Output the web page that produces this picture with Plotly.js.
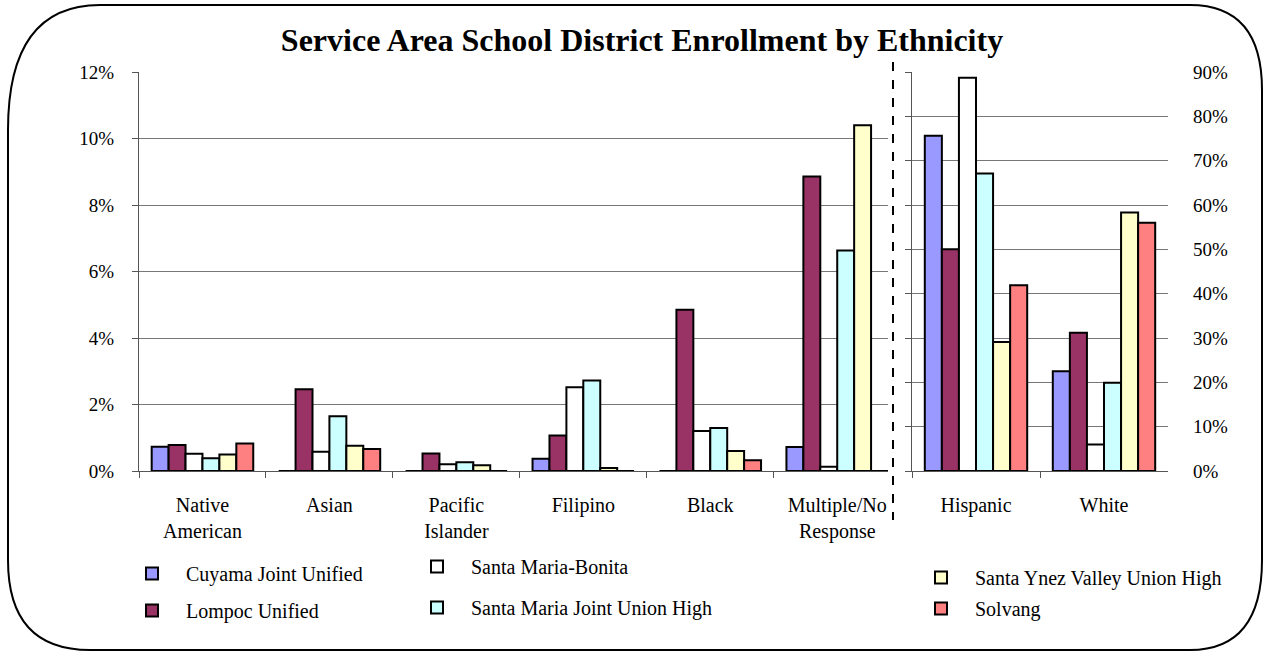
<!DOCTYPE html>
<html>
<head>
<meta charset="utf-8">
<script src="https://cdn.plot.ly/plotly-3.0.1.min.js"></script>
<style>html,body{margin:0;padding:0;background:#fff;}#chart{width:1267px;height:654px;}</style>
</head>
<body>
<div id="chart"></div>
<script>
// ---- data ----
const leftCategories = ["Native<br>American", "Asian", "Pacific<br>Islander", "Filipino", "Black", "Multiple/No<br>Response"];
const rightCategories = ["Hispanic", "White"];
const seriesNames = ["Cuyama Joint Unified", "Lompoc Unified", "Santa Maria-Bonita", "Santa Maria Joint Union High", "Santa Ynez Valley Union High", "Solvang"];
const seriesColors = ["#9999FF", "#993366", "#FFFFFF", "#CCFFFF", "#FFFFCC", "#FF8080"];
// percent values, left panel (order of leftCategories)
const cuyamaLeft   = [0.73, 0, 0, 0.37, 0, 0.72];
const lompocLeft   = [0.78, 2.46, 0.53, 1.07, 4.85, 8.86];
const bonitaLeft   = [0.52, 0.58, 0.20, 2.52, 1.20, 0.13];
const smjuhLeft    = [0.38, 1.65, 0.26, 2.72, 1.29, 6.63];
const syvLeft      = [0.50, 0.76, 0.17, 0.09, 0.60, 10.40];
const solvangLeft  = [0.83, 0.66, 0, 0, 0.32, 0];
// percent values, right panel (order of rightCategories)
const cuyamaRight  = [75.6, 22.5];
const lompocRight  = [50.0, 31.2];
const bonitaRight  = [88.7, 6.0];
const smjuhRight   = [67.1, 19.9];
const syvRight     = [29.1, 58.3];
const solvangRight = [41.9, 56.0];
const leftTicks = [0, 2, 4, 6, 8, 10, 12];
const leftTickLabels = ["0%", "2%", "4%", "6%", "8%", "10%", "12%"];
const rightTicks = [0, 10, 20, 30, 40, 50, 60, 70, 80, 90];
const rightTickLabels = ["0%", "10%", "20%", "30%", "40%", "50%", "60%", "70%", "80%", "90%"];

const leftSeries = [cuyamaLeft, lompocLeft, bonitaLeft, smjuhLeft, syvLeft, solvangLeft];
const rightSeries = [cuyamaRight, lompocRight, bonitaRight, smjuhRight, syvRight, solvangRight];
const legendIds = ["legend", "legend", "legend2", "legend2", "legend3", "legend3"];

const W = 1267, H = 654;
const px = x => x / W, py = y => 1 - y / H;
const FONT = "Liberation Serif, Times New Roman, serif";

const traces = [];
seriesNames.forEach((name, i) => {
  const marker = {color: seriesColors[i], line: {color: "#000", width: 2}};
  traces.push({type: "bar", x: leftCategories, y: leftSeries[i], name: name, marker: marker,
    xaxis: "x", yaxis: "y", legend: legendIds[i], legendgroup: name, showlegend: true, hoverinfo: "y+name"});
  traces.push({type: "bar", x: rightCategories, y: rightSeries[i], name: name, marker: marker,
    xaxis: "x2", yaxis: "y2", legendgroup: name, showlegend: false, hoverinfo: "y+name"});
});

const border = "M" + px(8) + "," + py(130) + " Q" + px(8) + "," + py(5) + " " + px(100) + "," + py(5) +
  " L" + px(1190) + "," + py(5) + " Q" + px(1262) + "," + py(5) + " " + px(1262) + "," + py(90) +
  " L" + px(1262) + "," + py(560) + " Q" + px(1262) + "," + py(650) + " " + px(1190) + "," + py(650) +
  " L" + px(90) + "," + py(650) + " Q" + px(8) + "," + py(650) + " " + px(8) + "," + py(560) + " Z";

const legendBase = {font: {family: FONT, size: 20, color: "#000"}, bgcolor: "rgba(0,0,0,0)",
  traceorder: "grouped", itemwidth: 58, xanchor: "left", yanchor: "top", itemclick: false, itemdoubleclick: false};

const axFont = {family: FONT, size: 20, color: "#000"};
const yFont = {family: FONT, size: 19, color: "#000"};

const layout = {
  width: W, height: H,
  margin: {l: 0, r: 0, t: 0, b: 0, pad: 0},
  paper_bgcolor: "#fff", plot_bgcolor: "#fff",
  font: {family: FONT, size: 20, color: "#000"},
  title: {text: "<b>Service Area School District Enrollment by Ethnicity</b>", x: px(642), y: py(40),
    xref: "paper", yref: "paper", xanchor: "center", yanchor: "middle", font: {family: FONT, size: 32, color: "#000"}},
  barmode: "group", bargap: 0.2, bargroupgap: 0,
  xaxis: {domain: [px(139), px(888)], range: [-0.5, 5.4], type: "category", tickson: "boundaries",
    ticks: "outside", ticklen: 6, tickcolor: "#555", showline: true, linecolor: "#555", linewidth: 1,
    showgrid: false, ticklabelstandoff: 16, tickfont: axFont, anchor: "y", fixedrange: true},
  yaxis: {domain: [py(471), py(72)], range: [0, 12], tickmode: "array", tickvals: leftTicks, ticktext: leftTickLabels,
    ticks: "outside", ticklen: 6, tickcolor: "#555", showline: true, linecolor: "#555", linewidth: 1,
    showgrid: true, gridcolor: "#777", gridwidth: 1, zeroline: false, ticklabelstandoff: 14,
    tickfont: yFont, anchor: "x", fixedrange: true},
  xaxis2: {domain: [px(912), px(1168)], range: [-0.5, 1.5], type: "category", tickson: "boundaries",
    ticks: "outside", ticklen: 6, tickcolor: "#555", showline: true, linecolor: "#555", linewidth: 1,
    showgrid: false, ticklabelstandoff: 16, tickfont: axFont, anchor: "y2", fixedrange: true},
  yaxis2: {domain: [py(471), py(72)], range: [0, 90], tickmode: "array", tickvals: rightTicks, ticktext: rightTickLabels, side: "right",
    ticks: "", showline: false, showgrid: true, gridcolor: "#777", gridwidth: 1, zeroline: false,
    ticklabelstandoff: 24, tickfont: yFont, anchor: "x2", fixedrange: true},
  yaxis3: {domain: [py(471), py(72)], range: [0, 90], tickvals: rightTicks, overlaying: "y2", side: "left",
    anchor: "x2", showticklabels: false, ticks: "outside", ticklen: 6, tickcolor: "#555",
    showline: true, linecolor: "#555", linewidth: 1, showgrid: false, zeroline: false, fixedrange: true},
  legend: Object.assign({}, legendBase, {x: px(118), y: py(554), tracegroupgap: 8}),
  legend2: Object.assign({}, legendBase, {x: px(403), y: py(547), tracegroupgap: 12}),
  legend3: Object.assign({}, legendBase, {x: px(907), y: py(558), tracegroupgap: 2}),
  shapes: [
    {type: "path", xref: "paper", yref: "paper", path: border, line: {color: "#000", width: 2}, fillcolor: "rgba(0,0,0,0)", layer: "above"},
    {type: "line", xref: "paper", yref: "paper", x0: px(893), x1: px(893), y0: py(62), y1: py(520),
      line: {color: "#000", width: 2, dash: "dash"}, layer: "above"}
  ],
  showlegend: true
};

// dummy trace to activate yaxis3
traces.push({type: "scatter", x: rightCategories, y: [null, null], xaxis: "x2", yaxis: "y3", showlegend: false, hoverinfo: "skip"});

Plotly.newPlot("chart", traces, layout, {displayModeBar: false, staticPlot: true});
</script>
</body>
</html>
